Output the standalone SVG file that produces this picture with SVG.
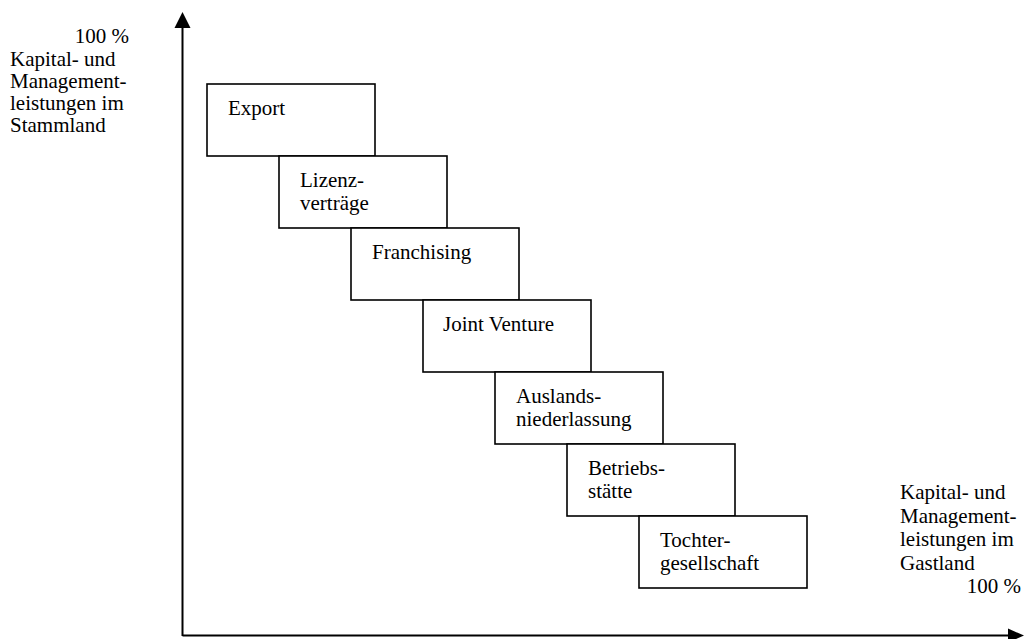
<svg xmlns="http://www.w3.org/2000/svg" width="1025" height="639" viewBox="0 0 1025 639" font-family="'Liberation Serif', 'Times New Roman', 'DejaVu Serif', serif" font-size="21">
<style>
text{font-family:'Liberation Serif','Times New Roman','DejaVu Serif',serif;font-size:21px;fill:#000}
.box{fill:#fff;stroke:#000;stroke-width:1.6}
.axis{stroke:#000;stroke-width:2;fill:none}
.end{text-anchor:end}
</style>
<g id="connectors">
<line class="axis" x1="182.5" y1="636" x2="182.5" y2="26"/>
<polygon points="182.5,12 174.5,28 190.5,28" fill="#000"/>
<line class="axis" x1="182.5" y1="635.5" x2="1009" y2="635.5"/>
<polygon points="1024,635.5 1008,628.5 1008,642.5" fill="#000"/>
</g>
<g id="label-stammland">
<text class="end" x="129" y="43">100 %</text>
<text x="10" y="66">Kapital- und</text>
<text x="10" y="88">Management-</text>
<text x="10" y="110">leistungen im</text>
<text x="10" y="132">Stammland</text>
</g>
<g id="label-gastland">
<text x="900" y="499">Kapital- und</text>
<text x="900" y="522.5">Management-</text>
<text x="900" y="546">leistungen im</text>
<text x="900" y="569.5">Gastland</text>
<text class="end" x="1021" y="593">100 %</text>
</g>
<g id="export">
<rect class="box" x="207" y="84" width="168" height="72"/>
<text x="228" y="115">Export</text>
</g>
<g id="lizenz">
<rect class="box" x="279" y="156" width="168" height="72"/>
<text x="300" y="187">Lizenz-</text>
<text x="300" y="210">verträge</text>
</g>
<g id="franchising">
<rect class="box" x="351" y="228" width="168" height="72"/>
<text x="372" y="259">Franchising</text>
</g>
<g id="jointventure">
<rect class="box" x="423" y="300" width="168" height="72"/>
<text x="443" y="331">Joint Venture</text>
</g>
<g id="auslandsniederlassung">
<rect class="box" x="495" y="372" width="168" height="72"/>
<text x="516" y="403">Auslands-</text>
<text x="516" y="426">niederlassung</text>
</g>
<g id="betriebsstaette">
<rect class="box" x="567" y="444" width="168" height="72"/>
<text x="588" y="475">Betriebs-</text>
<text x="588" y="498">stätte</text>
</g>
<g id="tochtergesellschaft">
<rect class="box" x="639" y="516" width="168" height="72"/>
<text x="660" y="547">Tochter-</text>
<text x="660" y="570">gesellschaft</text>
</g>
</svg>
